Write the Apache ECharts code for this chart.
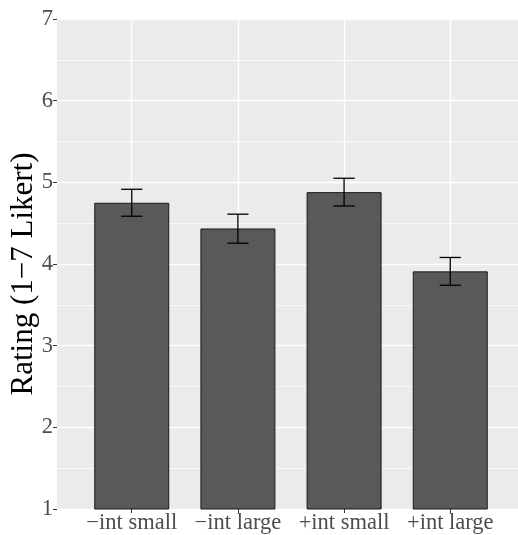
<!DOCTYPE html>
<html>
<head>
<meta charset="utf-8">
<script src="https://cdn.jsdelivr.net/npm/echarts@6/dist/echarts.min.js"></script>
<style>
html, body { margin: 0; padding: 0; background: #fff; }
#main { width: 518px; height: 535px; }
</style>
</head>
<body>
<div id="main"></div>
<script>
// data
var categories = ['\u2212int small', '\u2212int large', '+int small', '+int large'];
var means = [4.75, 4.435, 4.88, 3.91];
var errLow = [4.585, 4.255, 4.71, 3.74];
var errHigh = [4.915, 4.61, 5.05, 4.08];
var yTicks = [1, 2, 3, 4, 5, 6, 7];

var FONT = "'Liberation Serif', 'DejaVu Serif', serif";

var barData = means.map(function (v, i) { return [i, v]; });
var errData = means.map(function (v, i) { return [i, errLow[i], errHigh[i]]; });

var chart = echarts.init(document.getElementById('main'));

chart.setOption({
    animation: false,
    grid: {
        left: 57,
        right: -7,
        top: 19,
        bottom: 26,
        outerBoundsMode: 'none',
        containLabel: false,
        show: true,
        backgroundColor: '#EBEBEB',
        borderWidth: 0
    },
    xAxis: {
        type: 'value',
        min: -0.704,
        max: 3.704,
        axisLine: { show: false, onZero: false },
        axisTick: {
            show: true,
            customValues: [0, 1, 2, 3],
            length: 4,
            lineStyle: { color: '#333333', width: 1 }
        },
        axisLabel: {
            customValues: [0, 1, 2, 3],
            margin: 3,
            color: '#4D4D4D',
            fontFamily: FONT,
            fontSize: 22.5,
            formatter: function (v) { return categories[Math.round(v)]; }
        },
        splitLine: { show: true, lineStyle: { color: '#FFFFFF', width: 1.4 } }
    },
    yAxis: {
        type: 'value',
        min: yTicks[0],
        max: yTicks[yTicks.length - 1],
        interval: 1,
        name: 'Rating (1\u22127 Likert)',
        nameLocation: 'middle',
        nameGap: 18,
        nameMoveOverlap: false,
        nameTextStyle: { color: '#000000', fontFamily: FONT, fontSize: 31, padding: [0, 20, 0, 0] },
        axisLine: { show: false, onZero: false },
        axisTick: { show: true, length: 4, lineStyle: { color: '#333333', width: 1 } },
        axisLabel: { margin: 4, color: '#4D4D4D', fontFamily: FONT, fontSize: 22.5 },
        splitLine: { show: true, lineStyle: { color: '#FFFFFF', width: 1.4 } },
        minorTick: { show: false, splitNumber: 2 },
        minorSplitLine: { show: true, lineStyle: { color: '#FFFFFF', width: 0.7 } }
    },
    series: [
        {
            type: 'bar',
            data: barData,
            barWidth: 75,
            itemStyle: { color: '#595959', borderColor: '#1A1A1A', borderWidth: 1 },
            z: 3
        },
        {
            type: 'custom',
            data: errData,
            z: 4,
            renderItem: function (params, api) {
                var x = api.value(0);
                var lo = api.coord([x, api.value(1)]);
                var hi = api.coord([x, api.value(2)]);
                var half = api.size([0.2, 0])[0] / 2;
                var st = { stroke: '#000000', lineWidth: 1.3 };
                return {
                    type: 'group',
                    children: [
                        { type: 'line', shape: { x1: lo[0], y1: lo[1], x2: hi[0], y2: hi[1] }, style: st },
                        { type: 'line', shape: { x1: hi[0] - half, y1: hi[1], x2: hi[0] + half, y2: hi[1] }, style: st },
                        { type: 'line', shape: { x1: lo[0] - half, y1: lo[1], x2: lo[0] + half, y2: lo[1] }, style: st }
                    ]
                };
            }
        }
    ]
});
</script>
</body>
</html>
